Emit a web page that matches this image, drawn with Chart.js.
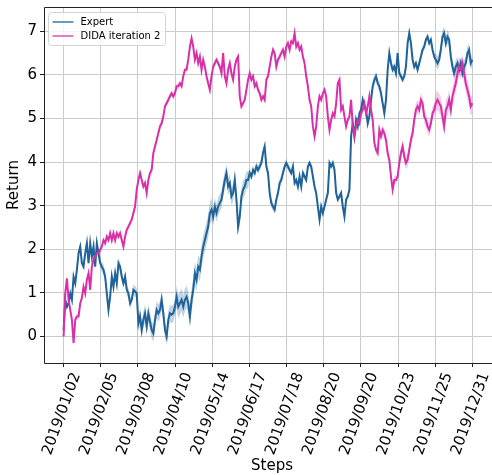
<!DOCTYPE html>
<html>
<head>
<meta charset="utf-8">
<script src="https://cdn.jsdelivr.net/npm/chart.js@4.4.0/dist/chart.umd.min.js"></script>
<style>
  html, body { margin: 0; padding: 0; background: #fff; overflow: hidden; }
  #quadro { width: 492px; height: 475px; overflow: hidden; }
  canvas { display: block; }
</style>
</head>
<body>
<div id="quadro"><canvas id="grafico" width="500" height="475"></canvas></div>
<script>
// tick labels on the x axis (evenly spaced over the steps)
const dateLabels = ['2019/01/02', '2019/02/05', '2019/03/08', '2019/04/10', '2019/05/14', '2019/06/17',
  '2019/07/18', '2019/08/20', '2019/09/20', '2019/10/23', '2019/11/25', '2019/12/31'];
const yTicks = [0, 1, 2, 3, 4, 5, 6, 7];

// mean return per step
const expertReturn = [
  0.15,0.84,0.68,0.76,0.99,0.84,1.37,1.22,1.53,1.91,
  2.06,1.68,1.60,1.91,2.14,1.68,2.14,1.83,2.06,1.60,
  2.14,1.91,1.68,1.60,1.53,1.37,0.99,0.61,0.91,1.37,
  1.14,1.45,1.22,1.68,1.60,1.37,1.22,1.37,1.07,0.99,
  0.76,0.84,1.07,1.03,0.99,0.30,0.46,0.15,0.38,0.53,
  0.23,0.53,0.34,0.15,0.07,0.38,0.61,0.53,0.61,0.84,
  0.53,0.15,0.00,0.38,0.53,0.50,0.53,0.68,0.91,0.68,
  0.76,0.84,0.68,0.84,0.91,0.76,0.46,
  0.84,1.07,1.45,1.30,1.60,1.53,1.83,2.06,2.21,2.37,
  2.52,2.83,2.91,2.75,2.98,2.83,2.98,3.06,3.14,3.37,
  3.59,3.75,3.44,3.52,3.21,3.29,3.59,3.14,2.52,2.75,
  3.21,3.37,3.44,3.59,3.59,3.75,3.67,3.82,3.75,3.90,
  3.82,3.90,3.98,4.21,4.36,3.90,3.75,3.29,3.06,2.98,
  2.91,3.14,3.29,3.52,3.59,3.75,3.90,3.98,3.90,3.82,
  3.75,3.90,3.52,3.59,3.44,3.67,3.44,3.75,3.67,3.59,
  3.90,3.98,3.90,3.67,3.44,3.29,2.98,2.68,2.98,2.83,
  2.98,3.14,3.29,3.98,3.90,3.98,3.82,3.29,3.14,3.21,
  3.29,2.98,2.75,3.14,3.21,3.37,4.59,4.89,4.59,4.97,
  4.82,5.12,5.20,5.43,5.28,5.20,4.89,5.05,5.43,5.74,
  5.89,5.97,5.81,5.74,5.58,5.35,5.12,5.43,6.12,6.50,
  6.27,6.12,6.19,6.04,6.50,6.04,5.97,5.89,5.97,6.19,
  6.73,6.96,6.73,6.35,6.19,6.27,6.12,6.27,6.42,6.58,
  6.65,6.81,6.88,6.73,6.81,6.58,6.42,6.35,6.27,6.35,
  6.58,6.88,6.96,6.73,6.88,6.81,6.42,6.19,6.04,6.19,
  6.27,6.12,6.27,6.04,6.19,6.27,6.50,6.58,6.27,6.35
];
const didaReturn = [
  0.00,0.99,1.33,0.84,0.61,0.38,-0.15,0.38,0.46,0.46,
  0.76,0.88,1.14,0.99,1.30,1.45,1.07,1.60,1.76,1.83,
  1.91,1.91,1.99,2.06,2.21,2.14,2.29,2.21,2.37,2.21,
  2.37,2.21,2.37,2.29,2.37,2.21,2.06,2.29,2.45,2.52,
  2.60,2.68,2.83,2.98,3.37,3.59,3.75,3.59,3.44,3.52,
  3.29,3.59,3.75,3.82,4.21,4.36,4.51,4.66,4.82,4.89,
  5.05,5.28,5.35,5.43,5.51,5.58,5.51,5.58,5.74,5.74,
  5.81,5.74,5.97,6.12,6.12,6.35,6.65,
  6.84,6.65,6.35,6.50,6.27,6.42,6.12,6.35,6.19,5.97,
  5.81,5.66,5.97,6.19,6.27,6.35,6.27,6.19,6.04,6.50,
  5.97,5.81,6.12,6.27,6.04,5.89,6.19,6.35,6.42,5.51,
  5.28,5.35,5.43,5.66,5.89,6.04,5.89,5.97,5.74,5.81,
  5.66,5.58,5.43,5.51,5.43,5.89,5.97,6.19,6.42,6.58,
  6.50,6.19,6.35,6.42,6.50,6.58,6.42,6.65,6.73,6.58,
  6.77,6.73,6.96,6.65,6.73,6.58,6.65,6.42,6.27,5.97,
  5.74,5.43,5.28,4.82,4.59,4.82,5.28,5.51,5.43,5.58,
  5.66,5.51,5.05,4.74,4.97,5.12,5.05,5.35,5.81,5.89,
  5.20,5.28,5.05,4.82,4.97,5.05,5.43,4.82,4.59,4.82,
  4.97,4.89,5.12,5.20,5.35,5.12,5.28,5.51,5.20,4.97,
  4.44,4.28,4.21,4.74,4.59,4.74,4.66,4.51,4.21,4.05,
  3.67,3.37,3.59,3.59,3.67,3.98,4.21,4.36,4.13,3.98,
  4.05,4.28,4.51,4.66,4.97,5.20,5.28,5.20,5.43,5.35,
  5.05,4.97,4.82,4.74,4.89,5.12,5.20,5.35,5.43,5.35,
  5.28,5.05,4.82,5.20,5.28,5.43,5.20,5.51,5.66,5.81,
  6.04,6.19,6.12,6.27,6.04,5.81,5.66,5.51,5.28,5.35
];

// half width of the shaded band, one value per interval between ticks
const expertSpread = [0.07, 0.12, 0.20, 0.26, 0.20, 0.10, 0.08, 0.07, 0.10, 0.08, 0.15];
const didaSpread = [0.07, 0.07, 0.07, 0.06, 0.07, 0.07, 0.07, 0.07, 0.10, 0.15, 0.22];

const lastStep = expertReturn.length - 1;
const segLen = lastStep / (dateLabels.length - 1);
const tickSteps = dateLabels.map((d, k) => k * segLen);

function pontos(vals) {
  return vals.map((v, i) => ({ x: i, y: v }));
}
function faixa(vals, spread, sinal) {
  return vals.map((v, i) => {
    const s = spread[Math.min(spread.length - 1, Math.floor(i / segLen))];
    return { x: i, y: v + sinal * s };
  });
}

const azul = '#1f6399';
const rosa = '#d930aa';
const fonte = 'DejaVu Sans';

// left, bottom and top spines; the right one falls outside the visible area
const molduras = {
  id: 'molduras',
  afterDatasetsDraw(chart) {
    const { ctx, chartArea } = chart;
    const l = Math.round(chartArea.left) + 0.5;
    const t = Math.round(chartArea.top) + 0.5;
    const b = Math.round(chartArea.bottom) + 0.5;
    ctx.save();
    ctx.strokeStyle = '#222';
    ctx.lineWidth = 1;
    ctx.beginPath();
    ctx.moveTo(chart.width, t);
    ctx.lineTo(l, t);
    ctx.lineTo(l, b);
    ctx.lineTo(chart.width, b);
    ctx.stroke();
    ctx.restore();
  }
};

const legendaInterna = {
  id: 'legendaInterna',
  afterDraw(chart) {
    const ctx = chart.ctx;
    const itens = chart.data.datasets.filter(d => d.legenda);
    const x0 = chart.chartArea.left + 4.5, y0 = chart.chartArea.top + 5.5;
    const w = 117, h = 33, r = 3;
    ctx.save();
    ctx.fillStyle = 'rgba(255,255,255,0.8)';
    ctx.strokeStyle = '#d4d4d4';
    ctx.lineWidth = 1;
    ctx.beginPath();
    ctx.roundRect(x0, y0, w, h, r);
    ctx.fill();
    ctx.stroke();
    ctx.font = '10px "' + fonte + '"';
    ctx.textBaseline = 'middle';
    ctx.fillStyle = '#000';
    itens.forEach((d, k) => {
      const y = y0 + 9.5 + k * 14;
      ctx.strokeStyle = d.borderColor;
      ctx.lineWidth = 1.3;
      ctx.beginPath();
      ctx.moveTo(x0 + 4, y);
      ctx.lineTo(x0 + 25, y);
      ctx.stroke();
      ctx.fillText(d.label, x0 + 32, y);
    });
    ctx.restore();
  }
};

const semBorda = { borderWidth: 0, borderColor: 'transparent', pointRadius: 0 };

new Chart(document.getElementById('grafico'), {
  type: 'line',
  data: {
    datasets: [
      { ...semBorda, label: 'expert hi', data: faixa(expertReturn, expertSpread, 1),
        backgroundColor: 'rgba(31,99,153,0.28)', fill: '+1', order: 3 },
      { ...semBorda, label: 'expert lo', data: faixa(expertReturn, expertSpread, -1), fill: false, order: 3 },
      { ...semBorda, label: 'dida hi', data: faixa(didaReturn, didaSpread, 1),
        backgroundColor: 'rgba(217,48,170,0.25)', fill: '+1', order: 2 },
      { ...semBorda, label: 'dida lo', data: faixa(didaReturn, didaSpread, -1), fill: false, order: 2 },
      { label: 'Expert', data: pontos(expertReturn), borderColor: azul, borderWidth: 2,
        pointRadius: 0, fill: false, order: 1, legenda: true },
      { label: 'DIDA iteration 2', data: pontos(didaReturn), borderColor: rosa, borderWidth: 2,
        pointRadius: 0, fill: false, order: 0, legenda: true }
    ]
  },
  options: {
    responsive: false,
    animation: false,
    devicePixelRatio: 1,
    layout: { padding: { top: 7, right: 0, left: 0, bottom: 0 } },
    plugins: {
      legend: { display: false },
      tooltip: { enabled: false }
    },
    scales: {
      x: {
        type: 'linear',
        min: -11.8,
        max: 262.6,
        afterBuildTicks: (s) => { s.ticks = tickSteps.map(v => ({ value: v })); },
        afterFit: (s) => { s.height = 112; s.paddingRight = 0; s.paddingLeft = 0; },
        ticks: {
          autoSkip: false,
          minRotation: 70,
          maxRotation: 70,
          labelOffset: 13,
          padding: 3,
          color: '#000',
          font: { family: fonte, size: 15 },
          callback: (v, i) => dateLabels[i]
        },
        grid: { color: '#cbcbcb', lineWidth: 1, tickColor: '#222', tickLength: 4 },
        border: { display: false },
        title: { display: true, text: 'Steps', color: '#000', font: { family: fonte, size: 15 },
          padding: { top: 0, bottom: 0 } }
      },
      y: {
        min: -0.61,
        max: 7.56,
        afterBuildTicks: (s) => { s.ticks = yTicks.map(v => ({ value: v })); },
        afterFit: (s) => { s.width = 44; s.paddingTop = 0; s.paddingBottom = 0; },
        ticks: { color: '#000', padding: 3, font: { family: fonte, size: 15 } },
        grid: { color: '#cbcbcb', lineWidth: 1, tickColor: '#222', tickLength: 4 },
        border: { display: false },
        title: { display: true, text: 'Return', color: '#000', font: { family: fonte, size: 15 },
          padding: { top: 5, bottom: 0 } }
      }
    }
  },
  plugins: [molduras, legendaInterna]
});
</script>
</body>
</html>
